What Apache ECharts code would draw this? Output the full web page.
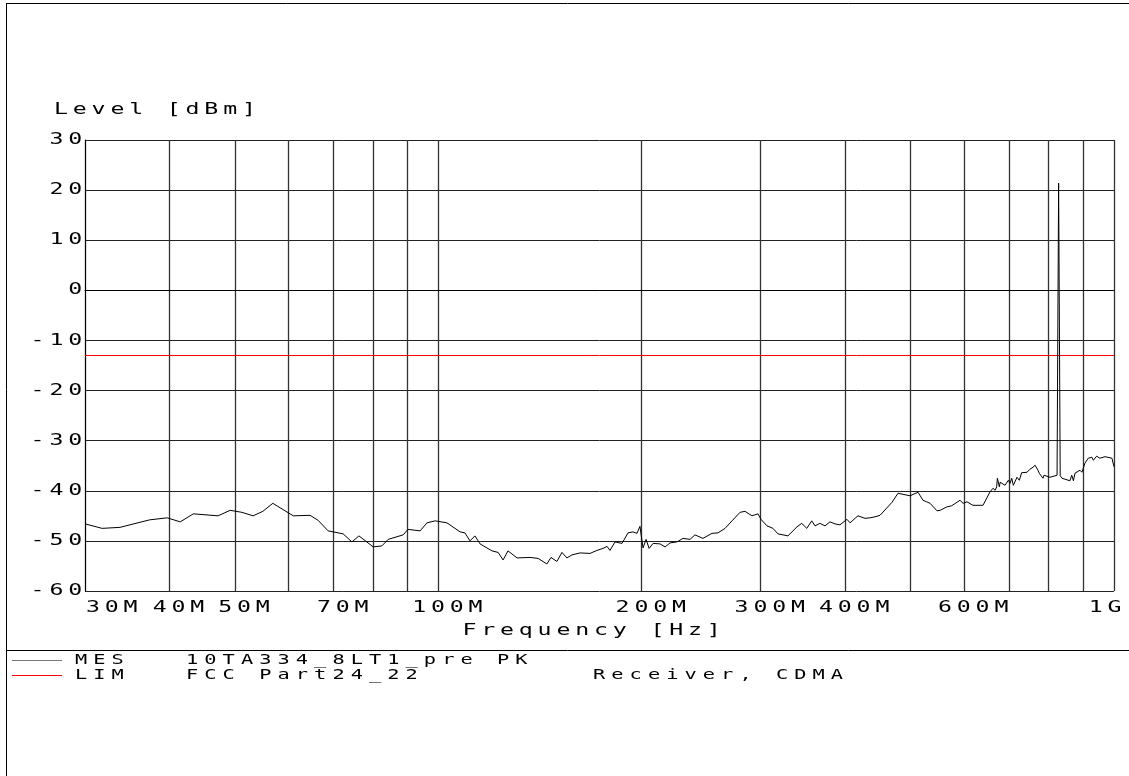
<!DOCTYPE html>
<html><head><meta charset="utf-8">
<script src="https://cdn.jsdelivr.net/npm/echarts@6/dist/echarts.min.js"></script>
<style>
html,body{margin:0;padding:0;background:#fff;}
#chart{width:1129px;height:776px;}
</style></head><body><div id="chart"></div>
<script>
// MES trace: frequency in MHz, level in dBm
const freqMHz = [30,31.8,33.8,37.4,39.7,41.5,43.4,47.2,49.2,51.2,53.2,55.0,56.9,61.0,64.6,66.4,68.7,72.3,74.5,76.3,80.1,82.5,84.3,88.7,90.2,94.0,96.2,98.9,103.0,107.7,109.5,111.4,113.3,115.3,120.1,122.6,124.7,126.8,130.8,136.7,140.5,144.8,146.8,149.8,152.4,155.0,157.7,162.1,167.7,171.7,175.3,177.7,179.5,182.6,187.0,190.9,194.1,196.8,198.8,200.9,203.0,205.1,207.9,212.9,216.6,220.3,225.6,230.2,235.8,239.8,246.4,254.1,259.4,265.7,272.1,279.6,284.4,291.2,297.2,300.3,306.5,312.8,318.2,329.2,339.5,345,351,357,361,367,373.5,379.9,386.5,393,402.5,406.8,413.8,417.9,428,435.5,442.8,450.5,469.3,479.0,499.0,512.8,521.6,528,534.3,547.1,553,566.1,575,591.7,598,606.0,
  618.5,639.9,655.5,662.1,667,670.5,672,676.7,678.4,682,689.8,697.7,701.8,705.6,709.7,718.6,724.3,730,734.5,743.6,751,758.8,764.2,771.8,775.2,785.1,787.8,790.6,804.2,823.6,828,832.5,837.6,860.6,865.9,870.9,875.4,890.6,896.5,905.6,916,927.5,932,942.6,953.0,958.8,970,976.2,993.0,1000];
const levelDbm = [-46.6,-47.5,-47.3,-45.8,-45.4,-46.2,-44.6,-45.0,-43.9,-44.3,-45.0,-44.1,-42.5,-45.0,-44.9,-45.9,-48.0,-48.6,-50.2,-49.0,-51.2,-51.0,-49.7,-48.8,-47.7,-48.0,-46.4,-46.0,-46.4,-48.2,-48.4,-50.0,-49.0,-50.6,-52.0,-52.3,-53.8,-52.0,-53.4,-53.3,-53.5,-54.6,-53.3,-54.1,-52.3,-53.4,-52.8,-52.4,-52.5,-51.9,-51.5,-51.1,-51.9,-50.2,-50.5,-48.4,-48.2,-48.5,-47.1,-51.4,-49.7,-51.5,-50.5,-50.6,-51.2,-50.4,-50.2,-49.5,-49.7,-48.8,-49.5,-48.5,-48.4,-47.5,-46.0,-44.3,-44.1,-45.0,-44.6,-45.7,-47.0,-47.5,-48.6,-49.0,-47.2,-46.5,-47.5,-46.0,-47.0,-46.5,-47.0,-46.2,-46.6,-46.8,-45.7,-46.4,-45.5,-45.0,-45.5,-45.4,-45.2,-44.9,-42.3,-40.5,-41.0,-40.3,-41.9,-42.2,-42.5,-44.0,-43.9,-43.2,-43.0,-41.9,-42.5,-42.2,
  -42.9,-42.9,-40.2,-39.5,-39.9,-39.2,-37.5,-39.2,-38.3,-38.2,-38.9,-37.9,-38.5,-37.5,-38.9,-37.3,-37.9,-36.4,-36.5,-36.3,-35.7,-35.3,-34.9,-35.9,-36.5,-37.5,-36.9,-37.2,-37.3,-36.9,21.4,-37.0,-37.5,-38.0,-36.9,-38.0,-36.5,-35.9,-36.3,-34.5,-33.5,-33.3,-33.9,-33.1,-33.5,-33.7,-33.2,-32.9,-33.5,-35.2];
// LIM line
const limitFreq = [30, 1000];
const limitLevel = [-13, -13];
// axes
const gridFreqs = [30,40,50,60,70,80,90,100,200,300,400,500,600,700,800,900,1000];
const labelFreqs = [40,50,70,100,200,300,400,600];
const labelNames = {30:'30M',40:'40M',50:'50M',70:'70M',100:'100M',200:'200M',300:'300M',400:'400M',600:'600M',1000:'1G'};
const yMin = -60, yMax = 30, yStep = 10;

// wide monospace look: stretch glyphs horizontally about the text anchor
(function () {
  const P = CanvasRenderingContext2D.prototype;
  const ft = P.fillText;
  const SX = 1.45;
  P.fillText = function (t, x, y, w) {
    const m = /(\d+(?:\.\d+)?)px/.exec(this.font);
    const size = m ? +m[1] : 12;
    const pitch = size >= 16 ? 18.8 : 18.3;
    this.save();
    this.translate(x, y);
    this.scale(SX, 1);
    try { this.letterSpacing = Math.max(0, pitch / SX - 0.602 * size).toFixed(2) + 'px'; } catch (e) {}
    const r = (w === undefined) ? ft.call(this, t, 0, 0) : ft.call(this, t, 0, 0, w / SX);
    this.restore();
    return r;
  };
})();

const FONT = '"DejaVu Sans Mono", monospace';
const lg = Math.log10;
const xMin = lg(30), xMax = lg(1000);
const fmt = v => labelNames[Math.round(Math.pow(10, v))] || '';

const chart = echarts.init(document.getElementById('chart'), null, {renderer: 'canvas'});
const baseX = {
  type: 'value', gridIndex: 0, position: 'bottom', min: xMin, max: xMax,
  axisTick: {show: false}, splitLine: {show: false}, axisLine: {show: false}
};
chart.setOption({
  animation: false,
  backgroundColor: '#fff',
  title: {text: 'Level [dBm]', left: 54, top: 102, padding: 0,
    textStyle: {fontFamily: FONT, fontSize: 16, fontWeight: 'normal', color: '#000'}},
  grid: {left: 85, right: 15, top: 140, bottom: 185},
  xAxis: [
    Object.assign({}, baseX, {
      name: 'Frequency [Hz]', nameLocation: 'middle', nameGap: 32,
      nameTextStyle: {fontFamily: FONT, fontSize: 16, color: '#000', padding: [0, 11, 0, 0]},
      axisLine: {show: true, lineStyle: {color: '#000', width: 1}},
      axisTick: {show: false, customValues: gridFreqs.map(lg)},
      splitLine: {show: true, lineStyle: {color: '#333', width: 1.3}},
      axisLabel: {customValues: labelFreqs.map(lg), formatter: fmt, fontFamily: FONT, fontSize: 16,
        color: '#000', margin: 9, padding: [0, 0, 0, 23]}
    }),
    Object.assign({}, baseX, {
      axisLabel: {customValues: [lg(30)], formatter: fmt, fontFamily: FONT, fontSize: 16,
        color: '#000', margin: 9, align: 'left', padding: [0, 0, 0, 1]}
    }),
    Object.assign({}, baseX, {
      axisLabel: {customValues: [lg(1000)], formatter: fmt, fontFamily: FONT, fontSize: 16,
        color: '#000', margin: 9, padding: [0, 13, 0, 0]}
    })
  ],
  yAxis: {
    type: 'value', min: yMin, max: yMax, interval: yStep,
    axisLine: {show: true, lineStyle: {color: '#000', width: 1}},
    axisTick: {show: false},
    splitLine: {show: true, lineStyle: {color: '#222', width: 1}},
    axisLabel: {fontFamily: FONT, fontSize: 16, color: '#000', margin: -2}
  },
  series: [
    {name: 'LIM', type: 'line', xAxisIndex: 0, showSymbol: false, silent: true, z: 3,
      lineStyle: {color: '#ff0000', width: 1},
      data: limitFreq.map((f, i) => [lg(f), limitLevel[i]])},
    {name: 'MES', type: 'line', xAxisIndex: 0, showSymbol: false, silent: true, z: 4,
      lineStyle: {color: '#000000', width: 1},
      data: freqMHz.map((f, i) => [lg(f), levelDbm[i]])}
  ],
  graphic: [
    {type: 'line', silent: true, shape: {x1: 6.5, y1: 3, x2: 6.5, y2: 776}, style: {stroke: '#000', lineWidth: 1}},
    {type: 'line', silent: true, shape: {x1: 6, y1: 3.5, x2: 1129, y2: 3.5}, style: {stroke: '#000', lineWidth: 1}},
    {type: 'line', silent: true, shape: {x1: 6, y1: 650.5, x2: 1129, y2: 650.5}, style: {stroke: '#000', lineWidth: 1}},
    {type: 'line', silent: true, shape: {x1: 12, y1: 660.5, x2: 62, y2: 660.5}, style: {stroke: '#777777', lineWidth: 1}},
    {type: 'line', silent: true, shape: {x1: 12, y1: 675.5, x2: 62, y2: 675.5}, style: {stroke: '#ff0000', lineWidth: 1}},
    {type: 'text', silent: true, x: 75, y: 660, style: {text: 'MES', font: '14px ' + FONT, fill: '#000', verticalAlign: 'middle'}},
    {type: 'text', silent: true, x: 186, y: 660, style: {text: '10TA334_8LT1_pre PK', font: '14px ' + FONT, fill: '#000', verticalAlign: 'middle'}},
    {type: 'text', silent: true, x: 75, y: 675, style: {text: 'LIM', font: '14px ' + FONT, fill: '#000', verticalAlign: 'middle'}},
    {type: 'text', silent: true, x: 186, y: 675, style: {text: 'FCC Part24_22', font: '14px ' + FONT, fill: '#000', verticalAlign: 'middle'}},
    {type: 'text', silent: true, x: 593, y: 675, style: {text: 'Receiver, CDMA', font: '14px ' + FONT, fill: '#000', verticalAlign: 'middle'}}
  ]
});
</script></body></html>
